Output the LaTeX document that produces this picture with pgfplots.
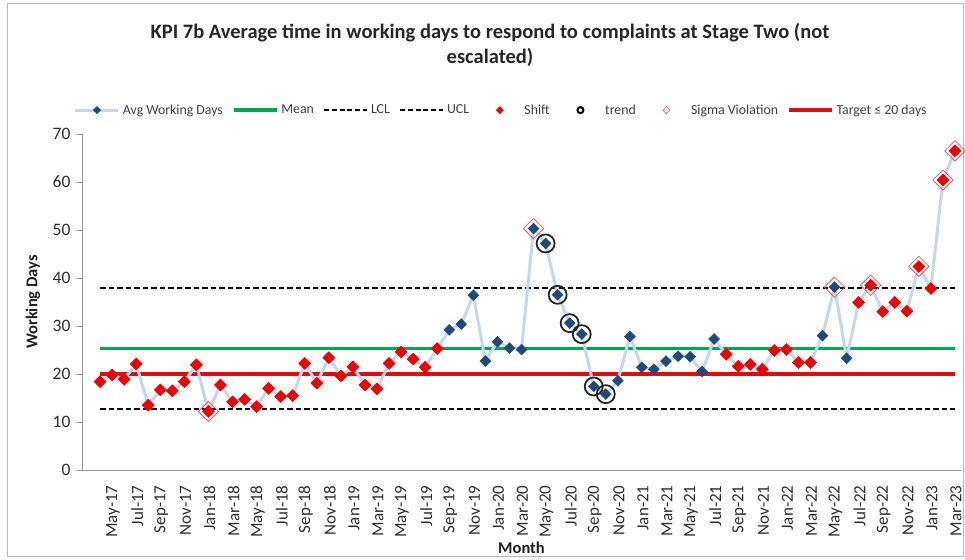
\documentclass[border=0pt]{standalone}
\usepackage{pgfplots}
\pgfplotsset{compat=1.18}
\usepackage{pgfplotstable}
\usepackage{fontspec}
\setmainfont{Carlito}
\definecolor{lineblue}{RGB}{197,215,238}
\definecolor{markblue}{RGB}{31,73,125}
\definecolor{meangreen}{RGB}{0,166,81}
\definecolor{targetred}{RGB}{214,16,16}
\definecolor{shiftred}{RGB}{240,0,0}
\definecolor{sigmared}{RGB}{235,90,90}
\definecolor{txt}{RGB}{64,64,64}
\definecolor{axgray}{RGB}{150,150,150}

\pgfplotsset{
  legline/.style={legend image code/.code={\draw[##1] (0pt,0pt) -- (43pt,0pt);}},
  legmark/.style={legend image code/.code={\path (0pt,0pt) (43pt,0pt); \draw[##1] plot coordinates {(21.5pt,0pt)};}},
  leglinemark/.style={legend image code/.code={\draw[##1, mark repeat=2, mark phase=2] plot coordinates {(0pt,0pt) (21.5pt,0pt) (43pt,0pt)};}},
}

\pgfplotstableread{
idx val
1 18.4
2 19.8
3 18.9
4 22.1
5 13.5
6 16.7
7 16.5
8 18.4
9 21.9
10 12.2
11 17.7
12 14.2
13 14.7
14 13.2
15 17.0
16 15.3
17 15.5
18 22.2
19 18.1
20 23.4
21 19.6
22 21.5
23 17.7
24 16.9
25 22.2
26 24.6
27 23.1
28 21.4
29 25.3
30 29.2
31 30.4
32 36.4
33 22.7
34 26.7
35 25.4
36 25.1
37 50.3
38 47.2
39 36.5
40 30.6
41 28.3
42 17.4
43 15.8
44 18.6
45 27.8
46 21.4
47 21.0
48 22.7
49 23.7
50 23.6
51 20.5
52 27.3
53 24.1
54 21.6
55 22.0
56 21.0
57 24.9
58 25.1
59 22.4
60 22.4
61 28.0
62 38.1
63 23.3
64 34.9
65 38.5
66 33.0
67 34.9
68 33.1
69 42.4
70 37.8
71 60.4
72 66.5
}\avg

\pgfplotstableread{
idx val
1 18.4
2 19.8
3 18.9
4 22.1
5 13.5
6 16.7
7 16.5
8 18.4
9 21.9
10 12.2
11 17.7
12 14.2
13 14.7
14 13.2
15 17.0
16 15.3
17 15.5
18 22.2
19 18.1
20 23.4
21 19.6
22 21.5
23 17.7
24 16.9
25 22.2
26 24.6
27 23.1
28 21.4
29 25.3
53 24.1
54 21.6
55 22.0
56 21.0
57 24.9
58 25.1
59 22.4
60 22.4
64 34.9
65 38.5
66 33.0
67 34.9
68 33.1
69 42.4
70 37.8
71 60.4
72 66.5
}\shift

\pgfplotstableread{
idx val
38 47.2
39 36.5
40 30.6
41 28.3
42 17.4
43 15.8
}\trend

\pgfplotstableread{
idx val
10 12.2
37 50.3
62 38.1
65 38.5
69 42.4
71 60.4
72 66.5
}\sigma

\begin{document}
\begin{tikzpicture}
\path[use as bounding box] (-82pt,-89pt) rectangle (883pt,470pt);
\draw[gray!55, line width=0.8pt] (-75pt,-86pt) rectangle (881pt,467pt);
\begin{axis}[
  scale only axis,
  width=879pt, height=336pt,
  xmin=-0.5, xmax=72.5,
  ymin=0, ymax=70,
  axis lines*=left,
  axis line style={axgray, line width=0.8pt},
  xtick={2,4,...,72},
  xticklabels={May-17,Jul-17,Sep-17,Nov-17,Jan-18,Mar-18,May-18,Jul-18,Sep-18,Nov-18,Jan-19,Mar-19,May-19,Jul-19,Sep-19,Nov-19,Jan-20,Mar-20,May-20,Jul-20,Sep-20,Nov-20,Jan-21,Mar-21,May-21,Jul-21,Sep-21,Nov-21,Jan-22,Mar-22,May-22,Jul-22,Sep-22,Nov-22,Jan-23,Mar-23},
  xtick style={draw=none},
  minor xtick={-0.5,0.5,...,72.5},
  minor x tick style={axgray, line width=0.8pt},
  minor tick length=6pt,
  ytick={0,10,...,70},
  ytick style={axgray, line width=0.8pt},
  major tick length=5pt,
  tick align=outside,
  /pgf/number format/assume math mode=true,
  xticklabel style={rotate=90, anchor=east, font=\fontsize{17}{19}\selectfont, text=txt!70!black, yshift=-1pt, xshift=-7pt},
  yticklabel style={font=\fontsize{17.5}{20}\selectfont, text=txt!70!black, xshift=-3pt},
  xlabel={Month},
  ylabel={Working Days},
  xlabel style={at={(axis description cs:0.5,-0.232)}, anchor=center, font=\bfseries\fontsize{16.5}{18}\selectfont, text=txt!50!black},
  ylabel style={at={(axis description cs:-0.0557,0.5)}, anchor=center, font=\bfseries\fontsize{16.5}{18}\selectfont, text=txt!50!black},
  legend columns=-1,
  legend style={at={(axis description cs:0.477,1.071)}, anchor=center, draw=none, fill=none,
    font=\fontsize{13.8}{16}\selectfont, text=txt,
    /tikz/every even column/.append style={column sep=7pt},
    /tikz/every odd column/.append style={column sep=1pt},
    inner sep=0pt},
  legend cell align=left,
  clip=false,
]
% legend images
\addlegendimage{leglinemark, lineblue, line width=3pt, mark=square*, mark size=2.7, mark options={fill=markblue, draw=markblue, line width=0.3pt, rotate=45}}
\addlegendentry{Avg Working Days}
\addlegendimage{legline, meangreen, line width=3.5pt}
\addlegendentry{Mean}
\addlegendimage{legline, black, line width=2.2pt, dash pattern=on 5pt off 2.8pt}
\addlegendentry{LCL}
\addlegendimage{legline, black, line width=2.2pt, dash pattern=on 5pt off 2.8pt}
\addlegendentry{UCL}
\addlegendimage{legmark, only marks, mark=square*, mark options={fill=shiftred, draw=shiftred, line width=0.3pt, rotate=45}, mark size=2.6}
\addlegendentry{Shift}
\addlegendimage{legmark, only marks, mark=o, mark options={draw=black, line width=2pt}, mark size=3}
\addlegendentry{trend}
\addlegendimage{legmark, only marks, mark=square, mark options={draw=sigmared, line width=0.6pt, rotate=45}, mark size=2.6}
\addlegendentry{Sigma Violation}
\addlegendimage{legline, targetred, line width=3.5pt}
\addlegendentry{Target ≤ 20 days}

% reference lines
\addplot[forget plot, meangreen, line width=3.5pt] coordinates {(1,25.35) (72,25.35)};
\addplot[forget plot, black, line width=2pt, dash pattern=on 5.5pt off 3pt] coordinates {(1,12.8) (72,12.8)};
\addplot[forget plot, black, line width=2pt, dash pattern=on 5.5pt off 3pt] coordinates {(1,37.9) (72,37.9)};
\addplot[forget plot, targetred, line width=3.5pt] coordinates {(1,20) (72,20)};
% data
\addplot[forget plot, lineblue, line width=3pt, mark=square*, mark size=3.9, mark options={fill=markblue, draw=markblue, line width=0.3pt, rotate=45}] table[x=idx,y=val] {\avg};
\addplot[forget plot, only marks, mark=square*, mark size=4.3, mark options={fill=shiftred, draw=shiftred, line width=0.3pt, rotate=45}] table[x=idx,y=val] {\shift};
\addplot[forget plot, only marks, mark=o, mark size=9, mark options={draw=black!85, line width=1.8pt}] table[x=idx,y=val] {\trend};
\addplot[forget plot, only marks, mark=square, mark size=7.2, mark options={draw=sigmared, line width=0.8pt, rotate=45}] table[x=idx,y=val] {\sigma};
\end{axis}
\node[font=\bfseries\fontsize{20.5}{25}\selectfont, align=center, text=black!85] at (408pt,425.5pt)
  {KPI 7b Average time in working days to respond to complaints at Stage Two (not\\escalated)};
\end{tikzpicture}
\end{document}
